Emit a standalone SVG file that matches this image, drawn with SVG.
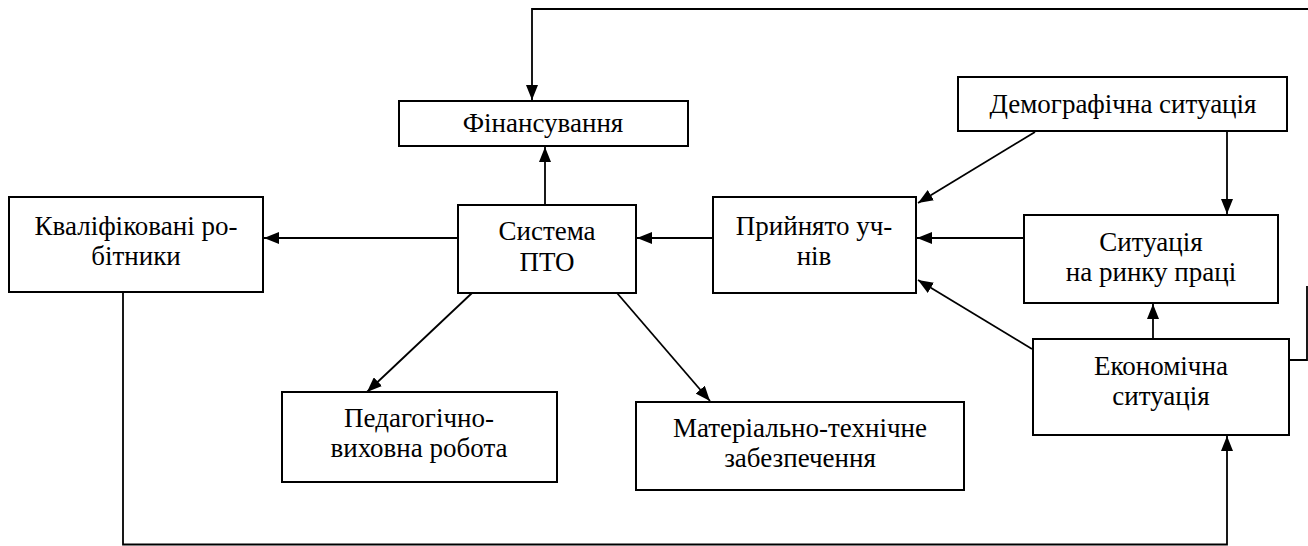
<svg xmlns="http://www.w3.org/2000/svg" width="1308" height="546" viewBox="0 0 1308 546">
<style>
.box{fill:#fff;stroke:#000;stroke-width:2}
.t{font-family:'Liberation Serif','Times New Roman',serif;font-size:27px;fill:#000;text-anchor:middle}
.c{fill:none;stroke:#000;stroke-width:1.8}
</style>
<defs>
<marker id="ah" viewBox="0 0 15 12" refX="15" refY="6" markerWidth="15" markerHeight="12" markerUnits="userSpaceOnUse" orient="auto">
<path d="M0,0 L15,6 L0,12 Z" fill="#000"/>
</marker>
</defs>
<g id="connectors">
<path class="c" d="M1289,360 H1307 V286 M1308,9 H532 V100" marker-end="url(#ah)"/>
<path class="c" d="M545,205 V147" marker-end="url(#ah)"/>
<path class="c" d="M458,238 H264" marker-end="url(#ah)"/>
<path class="c" d="M713,238 H637" marker-end="url(#ah)"/>
<path class="c" d="M1024,238 H917" marker-end="url(#ah)"/>
<path class="c" d="M1035,132 L918,203" marker-end="url(#ah)"/>
<path class="c" d="M1227,132 V214" marker-end="url(#ah)"/>
<path class="c" d="M1153,339 V304" marker-end="url(#ah)"/>
<path class="c" d="M1032,349 L918,280" marker-end="url(#ah)"/>
<path class="c" d="M472,293 L367,392" marker-end="url(#ah)"/>
<path class="c" d="M617,293 L710,401" marker-end="url(#ah)"/>
<path class="c" d="M123,292 V544.5 H1227 V436" marker-end="url(#ah)"/>
</g>
<g id="n-fin"><rect class="box" x="399" y="101" width="289" height="45"/><text class="t" x="543" y="132">Фінансування</text></g>
<g id="n-demo"><rect class="box" x="958" y="77" width="329" height="54"/><text class="t" x="1123" y="113">Демографічна ситуація</text></g>
<g id="n-kval"><rect class="box" x="9" y="197" width="254" height="95"/><text class="t" x="136" y="235">Кваліфіковані ро-</text><text class="t" x="136" y="265">бітники</text></g>
<g id="n-pto"><rect class="box" x="458" y="205" width="178" height="88"/><text class="t" x="547" y="240">Система</text><text class="t" x="547" y="271">ПТО</text></g>
<g id="n-pryin"><rect class="box" x="713" y="197" width="203" height="96"/><text class="t" x="814" y="235">Прийнято уч-</text><text class="t" x="814" y="265">нів</text></g>
<g id="n-rynok"><rect class="box" x="1024" y="215" width="254" height="88"/><text class="t" x="1151" y="251">Ситуація</text><text class="t" x="1151" y="281">на ринку праці</text></g>
<g id="n-ekon"><rect class="box" x="1033" y="339" width="256" height="96"/><text class="t" x="1161" y="375">Економічна</text><text class="t" x="1161" y="405">ситуація</text></g>
<g id="n-ped"><rect class="box" x="282" y="392" width="275" height="90"/><text class="t" x="419" y="427">Педагогічно-</text><text class="t" x="419" y="457">виховна робота</text></g>
<g id="n-mat"><rect class="box" x="636" y="402" width="328" height="88"/><text class="t" x="800" y="437">Матеріально-технічне</text><text class="t" x="800" y="467">забезпечення</text></g>
</svg>
